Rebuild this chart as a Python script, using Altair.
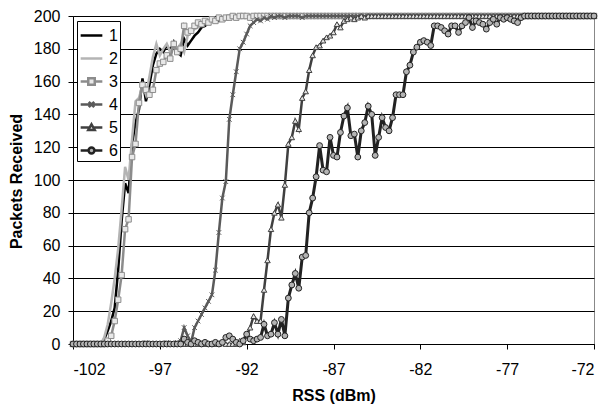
import altair as alt
import pandas as pd

# RSS sample points (dBm)
rss = [
    -102.0, -101.8, -101.6, -101.4, -101.2, -101.0, -100.8, -100.6, -100.4, -100.2,
    -100.0, -99.8, -99.6, -99.4, -99.2, -99.0, -98.8, -98.6, -98.4, -98.2,
    -98.0, -97.8, -97.6, -97.4, -97.2, -97.0, -96.8, -96.6, -96.4, -96.2,
    -96.0, -95.8, -95.6, -95.4, -95.2, -95.0, -94.8, -94.6, -94.4, -94.2,
    -94.0, -93.8, -93.6, -93.4, -93.2, -93.0, -92.8, -92.6, -92.4, -92.2,
    -92.0, -91.8, -91.6, -91.4, -91.2, -91.0, -90.8, -90.6, -90.4, -90.2,
    -90.0, -89.8, -89.6, -89.4, -89.2, -89.0, -88.8, -88.6, -88.4, -88.2,
    -88.0, -87.8, -87.6, -87.4, -87.2, -87.0, -86.8, -86.6, -86.4, -86.2,
    -86.0, -85.8, -85.6, -85.4, -85.2, -85.0, -84.8, -84.6, -84.4, -84.2,
    -84.0, -83.8, -83.6, -83.4, -83.2, -83.0, -82.8, -82.6, -82.4, -82.2,
    -82.0, -81.8, -81.6, -81.4, -81.2, -81.0, -80.8, -80.6, -80.4, -80.2,
    -80.0, -79.8, -79.6, -79.4, -79.2, -79.0, -78.8, -78.6, -78.4, -78.2,
    -78.0, -77.8, -77.6, -77.4, -77.2, -77.0, -76.8, -76.6, -76.4, -76.2,
    -76.0, -75.8, -75.6, -75.4, -75.2, -75.0, -74.8, -74.6, -74.4, -74.2,
    -74.0, -73.8, -73.6, -73.4, -73.2, -73.0, -72.8, -72.6, -72.4, -72.2,
    -72.0,
]

s1 = [
    0, 0, 0, 0, 0, 0, 0, 0, 0, 3,
    8, 14, 22, 45, 75, 98, 92, 122, 135, 143,
    162, 148, 158, 170, 177, 180, 178, 182, 179, 184,
    178, 176, 186, 182, 185, 188, 190, 193, 194, 196,
    199, 198, 197, 199, 199, 200, 199, 200, 200, 199,
    200, 200, 199, 200, 200, 200, 200, 199, 200, 200,
    200, 200, 200, 200, 200, 200, 200, 200, 200, 200,
    200, 200, 200, 200, 200, 200, 200, 200, 200, 200,
    200, 200, 200, 200, 200, 200, 200, 200, 200, 200,
    200, 200, 200, 200, 200, 200, 200, 200, 200, 200,
    200, 200, 200, 200, 200, 200, 200, 200, 200, 200,
    200, 200, 200, 200, 200, 200, 200, 200, 200, 200,
    200, 200, 200, 200, 200, 200, 200, 200, 200, 200,
    200, 200, 200, 200, 200, 200, 200, 200, 200, 200,
    200, 200, 200, 200, 200, 200, 200, 200, 200, 200,
    200,
]

s2 = [
    0, 0, 0, 0, 0, 0, 0, 0, 0, 4,
    12, 25, 40, 58, 82, 108, 100, 125, 148, 150,
    158, 152, 163, 175, 183, 176, 180, 183, 178, 182,
    180, 183, 178, 188, 190, 192, 193, 195, 196, 197,
    197, 198, 199, 198, 199, 200, 199, 200, 200, 200,
    200, 200, 200, 200, 200, 200, 200, 200, 200, 200,
    200, 200, 200, 200, 200, 200, 200, 200, 200, 200,
    200, 200, 200, 200, 200, 200, 200, 200, 200, 200,
    200, 200, 200, 200, 200, 200, 200, 200, 200, 200,
    200, 200, 200, 200, 200, 200, 200, 200, 200, 200,
    200, 200, 200, 200, 200, 200, 200, 200, 200, 200,
    200, 200, 200, 200, 200, 200, 200, 200, 200, 200,
    200, 200, 200, 200, 200, 200, 200, 200, 200, 200,
    200, 200, 200, 200, 200, 200, 200, 200, 200, 200,
    200, 200, 200, 200, 200, 200, 200, 200, 200, 200,
    200,
]

s3 = [
    0, 0, 0, 0, 0, 0, 0, 0, 0, 0,
    2, 5, 14, 27, 42, 70, 76, 114, 122, 147,
    158, 155, 152, 155, 167, 171, 172, 176, 174, 183,
    178, 180, 194, 190, 191, 194, 196, 195, 197, 196,
    198, 197, 199, 198, 199, 199, 200, 199, 200, 200,
    200, 199, 200, 200, 200, 200, 200, 200, 200, 200,
    200, 200, 200, 200, 200, 200, 200, 200, 200, 200,
    200, 200, 200, 200, 200, 200, 200, 200, 200, 200,
    200, 200, 200, 200, 200, 200, 200, 200, 200, 200,
    200, 200, 200, 200, 200, 200, 200, 200, 200, 200,
    200, 200, 200, 200, 200, 200, 200, 200, 200, 200,
    200, 200, 200, 200, 200, 200, 200, 200, 200, 200,
    200, 200, 200, 200, 200, 200, 200, 200, 200, 200,
    200, 200, 200, 200, 200, 200, 200, 200, 200, 200,
    200, 200, 200, 200, 200, 200, 200, 200, 200, 200,
    200,
]

s4 = [
    0, 0, 0, 0, 0, 0, 0, 0, 0, 0,
    0, 0, 0, 0, 0, 0, 0, 0, 0, 0,
    0, 1, 0, 0, 0, 0, 0, 1, 0, 0,
    1, 2, 10, 5, 1, 10, 14, 18, 22, 26,
    30, 45, 68, 89, 99, 137, 152, 166, 180, 184,
    189, 194, 196, 198, 197, 199, 198, 200, 199, 200,
    200, 199, 200, 200, 200, 200, 199, 200, 200, 200,
    200, 200, 200, 200, 200, 200, 200, 200, 200, 200,
    200, 200, 200, 200, 200, 200, 200, 200, 200, 200,
    200, 200, 200, 200, 200, 200, 200, 200, 200, 200,
    200, 200, 200, 200, 200, 200, 200, 200, 200, 200,
    200, 200, 200, 200, 200, 200, 200, 200, 200, 200,
    200, 200, 200, 200, 200, 200, 200, 200, 200, 200,
    200, 200, 200, 200, 200, 200, 200, 200, 200, 200,
    200, 200, 200, 200, 200, 200, 200, 200, 200, 200,
    200,
]

s5 = [
    0, 0, 0, 0, 0, 0, 0, 0, 0, 0,
    0, 0, 0, 0, 0, 0, 0, 0, 0, 0,
    0, 0, 0, 0, 0, 0, 0, 0, 0, 0,
    0, 0, 0, 0, 0, 0, 0, 0, 0, 0,
    0, 0, 0, 1, 0, 0, 0, 0, 2, 1,
    5, 10, 17, 14, 14, 33, 51, 70, 80, 85,
    77, 97, 122, 126, 136, 131, 150, 154, 167, 176,
    181, 182, 185, 187, 188, 190, 195, 193, 197, 198,
    199, 198, 199, 200, 199, 200, 200, 200, 200, 200,
    200, 200, 200, 200, 200, 200, 200, 200, 200, 200,
    200, 200, 200, 200, 200, 200, 200, 200, 200, 200,
    200, 200, 200, 200, 200, 200, 200, 200, 200, 200,
    200, 200, 200, 200, 200, 200, 200, 200, 200, 200,
    200, 200, 200, 200, 200, 200, 200, 200, 200, 200,
    200, 200, 200, 200, 200, 200, 200, 200, 200, 200,
    200,
]

s6 = [
    0, 0, 0, 0, 0, 0, 0, 0, 0, 0,
    0, 0, 0, 0, 0, 0, 0, 0, 0, 0,
    0, 0, 0, 0, 0, 0, 0, 0, 0, 0,
    0, 0, 3, 1, 0, 2, 1, 0, 1, 0,
    0, 1, 0, 1, 4, 5, 3, 1, 0, 2,
    6, 3, 2, 3, 4, 12, 5, 6, 13, 6,
    15, 5, 28, 36, 43, 34, 53, 54, 80, 89,
    102, 121, 106, 105, 126, 115, 114, 129, 139, 144,
    127, 128, 114, 130, 135, 145, 140, 115, 126, 138,
    132, 130, 138, 152, 152, 152, 166, 170, 178, 181,
    184, 185, 184, 182, 194, 194, 193, 191, 189, 194,
    194, 190, 194, 196, 199, 193, 197, 196, 195, 192,
    196, 198, 195, 199, 198, 199, 198, 197, 196, 199,
    200, 200, 200, 200, 200, 200, 200, 200, 200, 200,
    200, 200, 200, 200, 200, 200, 200, 200, 200, 200,
    200,
]

names = ["1", "2", "3", "4", "5", "6"]
series_values = [s1, s2, s3, s4, s5, s6]
line_colors = ["#000000", "#b4b4b4", "#8c8c8c", "#5a5a5a", "#404040", "#222222"]
line_widths = [2.5, 2.5, 2.5, 2.5, 2.5, 3]
x_ticks = [-102, -97, -92, -87, -82, -77, -72]
y_ticks = [0, 20, 40, 60, 80, 100, 120, 140, 160, 180, 200]

rows = []
for name, vals in zip(names, series_values):
    for xv, yv in zip(rss, vals):
        rows.append({"rss": xv, "packets": yv, "series": name})
df = pd.DataFrame(rows)

FONT = "Liberation Sans"

marker_style = {
    "3": dict(shape="square", size=30, fill="#e8e8e8", stroke="#8c8c8c"),
    "4": dict(shape="M-1,-1L1,1M-1,1L1,-1", size=22, fill="transparent", stroke="#5a5a5a"),
    "5": dict(shape="triangle-up", size=30, fill="#e4e4e4", stroke="#404040"),
    "6": dict(shape="circle", size=34, fill="#b4b4b4", stroke="#222222"),
}

# legend symbols: line with the series marker in its middle
legend_shapes = [
    "M-1,0L1,0",
    "M-1,0L1,0",
    "M-1,0L-0.3,0M0.3,0L1,0M-0.3,-0.3L0.3,-0.3L0.3,0.3L-0.3,0.3Z",
    "M-1,0L1,0M-0.25,-0.25L0.25,0.25M-0.25,0.25L0.25,-0.25",
    "M-1,0L-0.16,0M0.16,0L1,0M0,-0.3L0.3,0.24L-0.3,0.24Z",
    "M-1,0L-0.27,0M0.27,0L1,0M-0.27,0A0.27,0.27 0 1,0 0.27,0A0.27,0.27 0 1,0 -0.27,0Z",
]
legend_fills = ["transparent", "transparent", "#e8e8e8", "transparent", "#e4e4e4", "#b4b4b4"]

legend = alt.Legend(
    title=None,
    orient="none",
    legendX=4,
    legendY=5,
    padding=2,
    rowPadding=2,
    symbolSize=470,
    symbolStrokeWidth=2.5,
    labelOffset=5,
    labelFont=FONT,
    labelFontSize=16,
    labelColor="#000000",
    fillColor="#ffffff",
    strokeColor="#000000",
)

x_scale = alt.Scale(domain=[-102, -72], nice=False, zero=False)
y_scale = alt.Scale(domain=[0, 200], nice=False)

x_axis = alt.Axis(
    title="RSS (dBm)",
    values=x_ticks,
    labelExpr="'' + datum.value",
    grid=False,
    tickSize=5,
    tickColor="#000000",
    domainColor="#000000",
    labelPadding=12,
    titleBaseline="alphabetic",
    titleY=56,
    titleFontWeight="bold",
)
y_axis = alt.Axis(
    title="Packets Received",
    values=y_ticks,
    grid=True,
    gridColor="#000000",
    gridWidth=1,
    tickSize=5,
    tickColor="#000000",
    domainColor="#000000",
    labelPadding=8,
    titleAngle=-90,
    titleX=-57,
    titleY=165,
    titleAlign="center",
    titleBaseline="middle",
    titleFontWeight="bold",
)

X = alt.X("rss:Q", scale=x_scale, axis=x_axis)
Y = alt.Y("packets:Q", scale=y_scale, axis=y_axis)

base = alt.Chart(df)
layers = []
for name, color, lw in zip(names, line_colors, line_widths):
    sub = base.transform_filter(alt.datum.series == name)
    layers.append(sub.mark_line(strokeWidth=lw, color=color).encode(x=X, y=Y))
    if name in marker_style:
        st = marker_style[name]
        pts = sub.mark_point(
            shape=st["shape"],
            size=st["size"],
            fill=st["fill"],
            stroke=st["stroke"],
            strokeWidth=1,
            opacity=1,
            fillOpacity=1,
        ).encode(x=X, y=Y)
        layers.append(pts)

# legend-only layer (draws no points; scales have explicit domains)
legend_layer = base.transform_filter("datum.packets < 0").mark_point(
    size=470, strokeWidth=2.5, opacity=1
).encode(
    x=X,
    y=Y,
    stroke=alt.Stroke("series:N", scale=alt.Scale(domain=names, range=line_colors), legend=legend),
    shape=alt.Shape("series:N", scale=alt.Scale(domain=names, range=legend_shapes), legend=legend),
    fill=alt.Fill("series:N", scale=alt.Scale(domain=names, range=legend_fills), legend=legend),
)
layers.append(legend_layer)

chart = (
    alt.layer(*layers)
    .properties(
        width=521,
        height=328,
        autosize="none",
        padding={"left": 73, "top": 16, "right": 13, "bottom": 60},
        background="#ffffff",
    )
    .configure_view(stroke="#888888", strokeWidth=1)
    .configure_axis(
        labelFont=FONT,
        titleFont=FONT,
        labelFontSize=16,
        titleFontSize=16,
        labelColor="#000000",
        titleColor="#000000",
    )
)

chart.save("out.html", embed_options={"renderer": "svg", "actions": False})
